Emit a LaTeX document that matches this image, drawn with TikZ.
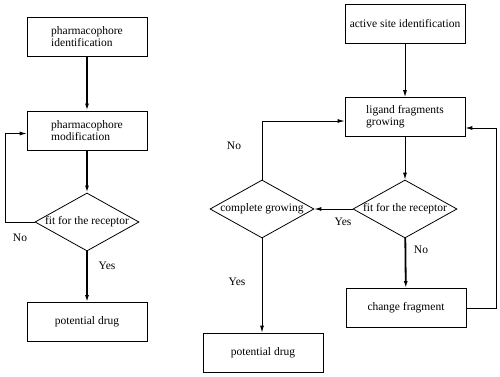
\documentclass[tikz,border=0pt]{standalone}
\usepackage{fontspec}
\setmainfont{Liberation Serif}
\usetikzlibrary{shapes.geometric,arrows.meta}
\begin{document}
\begin{tikzpicture}[>={Latex[length=7pt,width=4pt]}, x=1pt, y=-1pt,
    font=\fontsize{11.5}{12}\selectfont,
    box/.style={draw, line width=0.8pt, minimum width=120pt, minimum height=39pt, align=left, inner sep=2pt},
    dia/.style={draw, diamond, line width=0.8pt, minimum width=104pt, minimum height=58pt, inner sep=0pt},
    link/.style={->, line width=0.9pt},
    boldlink/.style={->, line width=1.8pt}]
    \useasboundingbox (0,0) rectangle (500,377);

    % 1. Left column
    \node[box] (pid) at (87,37) {pharmacophore\\identification};
    \node[box] (pmod) at (87,130.5) {pharmacophore\\modification};
    \node[dia] (lfit) at (87,222) {\makebox[0pt]{fit for the receptor}};
    \node[box] (ldrug) at (87,322) {potential drug};

    \draw[boldlink] (pid) -- (pmod);
    \draw[boldlink] (pmod) -- (lfit);
    \draw[boldlink] (lfit) -- (ldrug);
    \draw[link] (lfit.west) -- ++(-29,0) |- ([yshift=-3pt]pmod.west);
    \node (lno) at (20,238) {No};
    \node (lyes) at (107,266) {Yes};

    % 2. Right column
    \node[box] (asid) at (405,23.5) {active site identification};
    \node[box] (lfg) at (405,117) {ligand fragments\\growing};
    \node[dia] (rfit) at (405,209) {\makebox[0pt]{fit for the receptor}};
    \node[box] (chg) at (406,308) {change fragment};
    \node[dia] (cg) at (262,209) {\makebox[0pt]{complete growing}};
    \node[box] (rdrug) at (263,352.5) {potential drug};

    \draw[link] (asid) -- (lfg);
    \draw[link] (lfg) -- (rfit);
    \draw[boldlink] (rfit) -- (chg);
    \draw[link] (rfit) -- (cg);
    \draw[link] (cg.south) -- (cg.south |- rdrug.north);
    \draw[link] (cg.north) |- ([yshift=-4pt]lfg.west);
    \draw[link] (chg.east) -- ++(30,0) |- ([yshift=-11pt]lfg.east);

    % 3. Labels
    \node (rno) at (234,146) {No};
    \node (ryes) at (343,222) {Yes};
    \node (fno) at (421,250) {No};
    \node (cyes) at (237,282) {Yes};
\end{tikzpicture}
\end{document}
